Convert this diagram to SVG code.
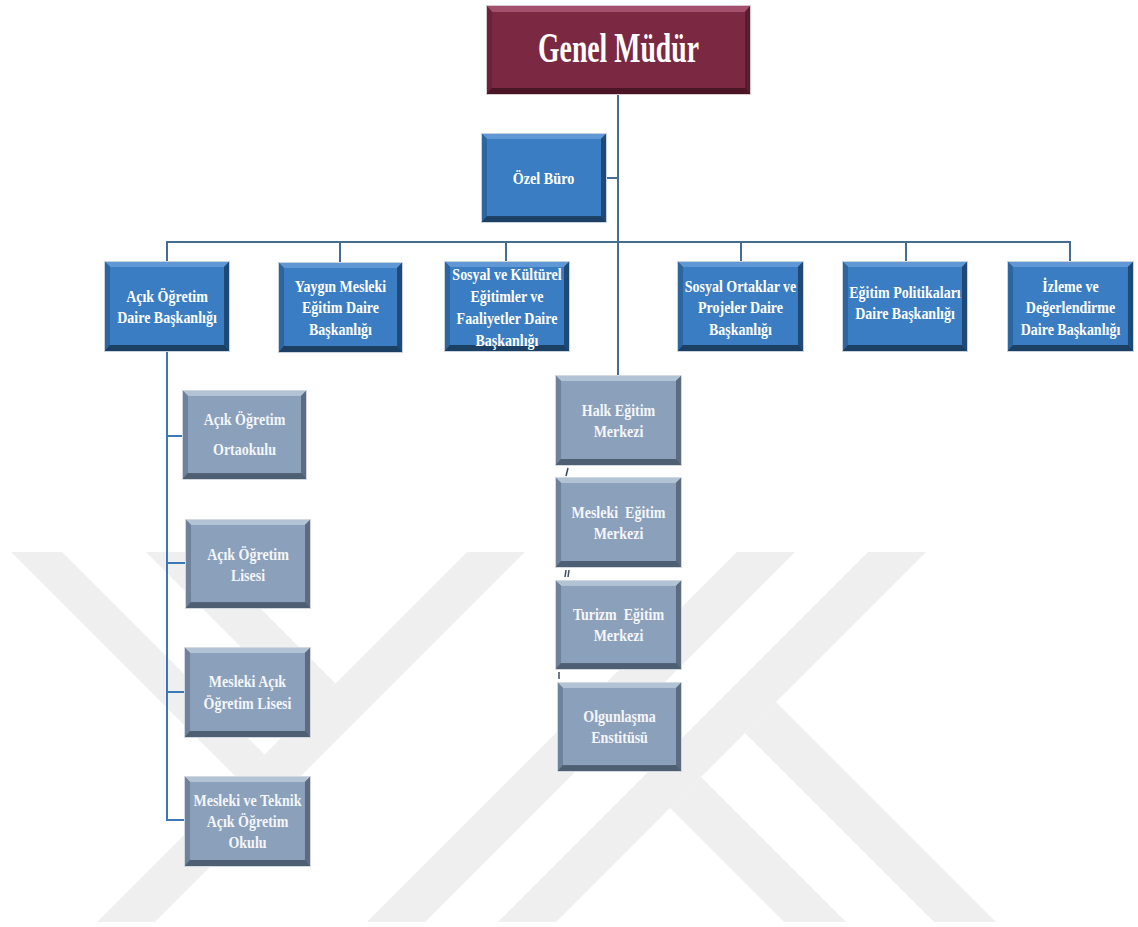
<svg xmlns="http://www.w3.org/2000/svg" xmlns:xlink="http://www.w3.org/1999/xlink" width="1138" height="927" viewBox="0 0 1138 927">
<style>
  .t { font-family: "Liberation Serif", "Times New Roman", serif; font-weight: bold; font-size: 17.5px; fill: #ffffff; text-anchor: middle; }
  .tg { fill: #f4f6f9; }
  .big { font-size: 42px; }
  .mid { font-size: 16.5px; }
  .ln { stroke: #456d91; stroke-width: 2; fill: none; }
  .lb { stroke: #3b78b6; stroke-width: 2; fill: none; }
  .tick { stroke: #3d4d5e; stroke-width: 1.5; fill: none; }
  .wm { fill: #efefef; }
</style>
<defs>
  <symbol id="bx-blue" viewBox="0 0 126 91" preserveAspectRatio="none">
    <rect width="126" height="91" fill="#24568a"/>
    <polygon points="0,0 126,0 120,6 6,6" fill="#5f98d4"/>
    <polygon points="0,0 6,6 6,84 0,91" fill="#2d659e"/>
    <polygon points="126,0 120,6 120,84 126,91" fill="#1f4a78"/>
    <polygon points="0,91 6,84 120,84 126,91" fill="#1c3f64"/>
    <rect x="6" y="6" width="114" height="78" fill="#3a7dc2"/>
    <rect x="0.5" y="0.5" width="125" height="90" fill="none" stroke="#c9d3de" stroke-width="1"/>
  </symbol>
  <symbol id="bx-gray" viewBox="0 0 126 91" preserveAspectRatio="none">
    <rect width="126" height="91" fill="#5d6e84"/>
    <polygon points="0,0 126,0 120,6 6,6" fill="#b3c3d6"/>
    <polygon points="0,0 6,6 6,84 0,91" fill="#6f829b"/>
    <polygon points="126,0 120,6 120,84 126,91" fill="#5b6c82"/>
    <polygon points="0,91 6,84 120,84 126,91" fill="#4f5f73"/>
    <rect x="6" y="6" width="114" height="78" fill="#8ba0bb"/>
    <rect x="0.5" y="0.5" width="125" height="90" fill="none" stroke="#d3d8de" stroke-width="1"/>
  </symbol>
  <symbol id="bx-red" viewBox="0 0 265 90" preserveAspectRatio="none">
    <rect width="265" height="90" fill="#541a2c"/>
    <polygon points="0,0 265,0 259,7 6,7" fill="#a3506c"/>
    <polygon points="0,0 6,7 6,83 0,90" fill="#6a2139"/>
    <polygon points="265,0 259,7 259,83 265,90" fill="#5a1c30"/>
    <polygon points="0,90 6,83 259,83 265,90" fill="#4a1626"/>
    <rect x="6" y="7" width="253" height="76" fill="#7b2943"/>
    <rect x="0.5" y="0.5" width="264" height="89" fill="none" stroke="#d8c9ce" stroke-width="1"/>
  </symbol>
</defs>
<rect width="1138" height="927" fill="#ffffff"/>

<g id="watermark">
  <polygon class="wm" points="11,552 62,552 264.5,754.5 239,780"/>
  <polygon class="wm" points="146,552 204,552 335.5,683.5 306.5,712.5"/>
  <polygon class="wm" points="467,552 525,552 155,922 97,922"/>
  <polygon class="wm" points="737,552 795,552 425,922 367,922"/>
  <polygon class="wm" points="868,552 926,552 556,922 498,922"/>
  <polygon class="wm" points="745,733 776,702 996,922 934,922"/>
  <polygon class="wm" points="670,808 701,777 846,922 784,922"/>
</g>

<g id="connectors">
  <line class="ln" x1="618" y1="95" x2="618" y2="375"/>
  <line class="ln" x1="607" y1="178" x2="618" y2="178"/>
  <line class="ln" x1="166" y1="242" x2="1071" y2="242"/>
  <line class="ln" x1="167" y1="242" x2="167" y2="261"/>
  <line class="ln" x1="340" y1="242" x2="340" y2="262"/>
  <line class="ln" x1="506" y1="242" x2="506" y2="261"/>
  <line class="ln" x1="741" y1="242" x2="741" y2="261"/>
  <line class="ln" x1="906" y1="242" x2="906" y2="261"/>
  <line class="ln" x1="1070" y1="242" x2="1070" y2="261"/>
  <polyline class="lb" points="167,352 167,820 184,820"/>
  <line class="lb" x1="167" y1="436" x2="182" y2="436"/>
  <line class="lb" x1="167" y1="563" x2="185" y2="563"/>
  <line class="lb" x1="167" y1="692" x2="184" y2="692"/>
  <line class="tick" x1="566" y1="476" x2="568" y2="468"/>
  <line class="tick" x1="565" y1="577" x2="566" y2="570"/>
  <line class="tick" x1="568" y1="577" x2="569" y2="570"/>
  <line class="tick" x1="559" y1="679" x2="559" y2="672" stroke="#8a96a3"/>
</g>

<g id="genel-mudur">
  <use href="#bx-red" x="486" y="5" width="265" height="90"/>
  <text class="t big" transform="translate(618.5 62) scale(0.66 1)">Genel Müdür</text>
</g>

<g id="ozel-buro">
  <use href="#bx-blue" x="481" y="133" width="126" height="90"/>
  <text class="t mid" transform="translate(543.5 184) scale(0.86 1)">Özel Büro</text>
</g>

<g id="acik-ogretim-db">
  <use href="#bx-blue" x="104" y="261" width="126" height="91"/>
  <text class="t" transform="translate(167 302) scale(0.8 1)"><tspan x="0">Açık Öğretim</tspan><tspan x="0" dy="21.5">Daire Başkanlığı</tspan></text>
</g>

<g id="yaygin-mesleki-db">
  <use href="#bx-blue" x="278" y="262" width="125" height="91"/>
  <text class="t" transform="translate(340.5 292) scale(0.8 1)"><tspan x="0">Yaygın Mesleki</tspan><tspan x="0" dy="21.5">Eğitim Daire</tspan><tspan x="0" dy="21.5">Başkanlığı</tspan></text>
</g>

<g id="sosyal-kulturel-db">
  <use href="#bx-blue" x="444" y="261" width="126" height="91"/>
  <text class="t" transform="translate(507 280) scale(0.8 1)"><tspan x="0">Sosyal ve Kültürel</tspan><tspan x="0" dy="22">Eğitimler ve</tspan><tspan x="0" dy="22">Faaliyetler Daire</tspan><tspan x="0" dy="22">Başkanlığı</tspan></text>
</g>

<g id="sosyal-ortaklar-db">
  <use href="#bx-blue" x="677" y="261" width="127" height="91"/>
  <text class="t" transform="translate(740.5 292) scale(0.8 1)"><tspan x="0">Sosyal Ortaklar ve</tspan><tspan x="0" dy="21.5">Projeler Daire</tspan><tspan x="0" dy="21.5">Başkanlığı</tspan></text>
</g>

<g id="egitim-politikalari-db">
  <use href="#bx-blue" x="842" y="261" width="126" height="91"/>
  <text class="t" transform="translate(905 298) scale(0.8 1)"><tspan x="0">Eğitim Politikaları</tspan><tspan x="0" dy="21.5">Daire Başkanlığı</tspan></text>
</g>

<g id="izleme-degerlendirme-db">
  <use href="#bx-blue" x="1007" y="261" width="127" height="91"/>
  <text class="t" transform="translate(1070.5 292) scale(0.8 1)"><tspan x="0">İzleme ve</tspan><tspan x="0" dy="21.5">Değerlendirme</tspan><tspan x="0" dy="21.5">Daire Başkanlığı</tspan></text>
</g>

<g id="acik-ogretim-ortaokulu">
  <use href="#bx-gray" x="182" y="390" width="125" height="90"/>
  <text class="t tg" transform="translate(244.5 425) scale(0.8 1)"><tspan x="0">Açık Öğretim</tspan><tspan x="0" dy="30.5">Ortaokulu</tspan></text>
</g>

<g id="acik-ogretim-lisesi">
  <use href="#bx-gray" x="185" y="519" width="126" height="90"/>
  <text class="t tg" transform="translate(248 559.5) scale(0.8 1)"><tspan x="0">Açık Öğretim</tspan><tspan x="0" dy="21.5">Lisesi</tspan></text>
</g>

<g id="mesleki-acik-ogretim-lisesi">
  <use href="#bx-gray" x="184" y="647" width="127" height="91"/>
  <text class="t tg" transform="translate(247.5 687) scale(0.8 1)"><tspan x="0">Mesleki Açık</tspan><tspan x="0" dy="22">Öğretim Lisesi</tspan></text>
</g>

<g id="mesleki-teknik-acik-ogretim-okulu">
  <use href="#bx-gray" x="184" y="776" width="127" height="91"/>
  <text class="t tg" transform="translate(247.5 806) scale(0.8 1)"><tspan x="0">Mesleki ve Teknik</tspan><tspan x="0" dy="21">Açık Öğretim</tspan><tspan x="0" dy="21">Okulu</tspan></text>
</g>

<g id="halk-egitim-merkezi">
  <use href="#bx-gray" x="555" y="375" width="127" height="91"/>
  <text class="t tg" transform="translate(618.5 416) scale(0.8 1)"><tspan x="0">Halk Eğitim</tspan><tspan x="0" dy="21.5">Merkezi</tspan></text>
</g>

<g id="mesleki-egitim-merkezi">
  <use href="#bx-gray" x="555" y="477" width="127" height="91"/>
  <text class="t tg" xml:space="preserve" transform="translate(618.5 518) scale(0.8 1)"><tspan x="0">Mesleki  Eğitim</tspan><tspan x="0" dy="21.5">Merkezi</tspan></text>
</g>

<g id="turizm-egitim-merkezi">
  <use href="#bx-gray" x="555" y="580" width="127" height="90"/>
  <text class="t tg" xml:space="preserve" transform="translate(618.5 620) scale(0.8 1)"><tspan x="0">Turizm  Eğitim</tspan><tspan x="0" dy="21.5">Merkezi</tspan></text>
</g>

<g id="olgunlasma-enstitusu">
  <use href="#bx-gray" x="557" y="682" width="125" height="90"/>
  <text class="t tg" transform="translate(619.5 722) scale(0.8 1)"><tspan x="0">Olgunlaşma</tspan><tspan x="0" dy="21.5">Enstitüsü</tspan></text>
</g>
</svg>
